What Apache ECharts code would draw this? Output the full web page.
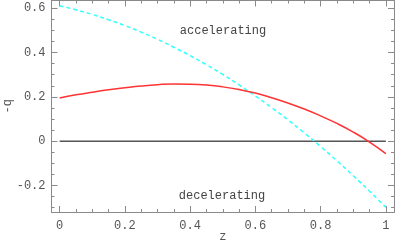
<!DOCTYPE html>
<html><head><meta charset="utf-8">
<script src="https://cdn.jsdelivr.net/npm/echarts@6/dist/echarts.min.js"></script>
<style>html,body{margin:0;padding:0;background:#fff}#c{width:395px;height:242px}</style>
</head><body><div id="c"></div>
<script>
const zValues = [0,0.05,0.1,0.15,0.2,0.25,0.3,0.35,0.4,0.45,0.5,0.55,0.6,0.65,0.7,0.75,0.8,0.85,0.9,0.95,1.0];
const redQ = [0.195,0.209,0.221,0.232,0.241,0.249,0.255,0.258,0.257,0.253,0.245,0.233,0.217,0.196,0.172,0.145,0.114,0.080,0.041,-0.004,-0.056];
const cyanQ = [0.611,0.593,0.572,0.548,0.522,0.492,0.460,0.424,0.386,0.345,0.301,0.254,0.204,0.151,0.096,0.037,-0.024,-0.089,-0.156,-0.226,-0.299];
const zeroLine = [[0,0],[1,0]];
const xTicks = [0,0.2,0.4,0.6,0.8,1];
const xTickLabels = ['0','0.2','0.4','0.6','0.8','1'];
const yTicks = [-0.2,0,0.2,0.4,0.6];
const yTickLabels = ['-0.2','0','0.2','0.4','0.6'];
const xMinor = [0.05,0.1,0.15,0.25,0.3,0.35,0.45,0.5,0.55,0.65,0.7,0.75,0.85,0.9,0.95];
const yMinor = [-0.3,-0.25,-0.15,-0.1,-0.05,0.05,0.1,0.15,0.25,0.3,0.35,0.45,0.5,0.55];
const texts = ['accelerating','decelerating'];

const XMIN=-0.025, XMAX=1.025, YMIN=-0.32, YMAX=0.635;
const font = 'Liberation Mono';
const axisCol = '#8a8a8a';
function xa(pos, vals, len, labels){
  return {type:'value', position:pos, min:XMIN, max:XMAX,
    axisLine:{show:true, onZero:false, lineStyle:{color:axisCol, width:1}},
    splitLine:{show:false},
    axisTick:{show:true, inside:true, length:len, customValues:vals, lineStyle:{color:axisCol}},
    axisLabel:labels ? {show:true, customValues:xTicks, margin:8, color:'#555', fontFamily:font, fontSize:12,
       formatter:(v)=>{const i=xTicks.findIndex(t=>Math.abs(t-v)<1e-9);return i>=0?xTickLabels[i]:'';}} : {show:false},
    name: labels ? 'z' : '', nameLocation:'middle', nameGap:19, nameMoveOverlap:false,
    nameTextStyle:{color:'#555', fontFamily:font, fontSize:12}};
}
function ya(pos, vals, len, labels){
  return {type:'value', position:pos, min:YMIN, max:YMAX,
    axisLine:{show:true, onZero:false, lineStyle:{color:axisCol, width:1}},
    splitLine:{show:false},
    axisTick:{show:true, inside:true, length:len, customValues:vals, lineStyle:{color:axisCol}},
    axisLabel:labels ? {show:true, customValues:yTicks, margin:6, color:'#555', fontFamily:font, fontSize:12,
       formatter:(v)=>{const i=yTicks.findIndex(t=>Math.abs(t-v)<1e-9);return i>=0?yTickLabels[i]:'';}} : {show:false},
    name: labels ? '-q' : '', nameLocation:'middle', nameGap:38, nameRotate:90, nameMoveOverlap:false,
    nameTextStyle:{color:'#555', fontFamily:font, fontSize:12}};
}
const chart = echarts.init(document.getElementById('c'), null, {renderer:'canvas'});
chart.setOption({
  animation:false,
  backgroundColor:'#fff',
  grid:{left:51.5, right:1, top:0.5, bottom:30, containLabel:false, outerBoundsMode:'none'},
  xAxis:[xa('bottom', xTicks, 6, true), xa('bottom', xMinor, 3, false), xa('top', xTicks, 6, false), xa('top', xMinor, 3, false)],
  yAxis:[ya('left', yTicks, 6, true), ya('left', yMinor, 3, false), ya('right', yTicks, 6, false), ya('right', yMinor, 3, false)],
  series:[
    {type:'line', data:zeroLine, symbol:'none', lineStyle:{color:'#555', width:1.5}},
    {type:'line', data:zValues.map((z,i)=>[z,cyanQ[i]]), smooth:true, symbol:'none', lineStyle:{color:'#33ffff', width:1.5, type:[4,3]}},
    {type:'line', data:zValues.map((z,i)=>[z,redQ[i]]), smooth:true, symbol:'none', lineStyle:{color:'#ff3333', width:1.5}}
  ],
  graphic:[
    {type:'text', style:{text:texts[0], x:223, y:31, align:'center', verticalAlign:'middle', fill:'#444', font:'12px "Liberation Mono"'}},
    {type:'text', style:{text:texts[1], x:222, y:196, align:'center', verticalAlign:'middle', fill:'#444', font:'12px "Liberation Mono"'}}
  ]
});
</script></body></html>
